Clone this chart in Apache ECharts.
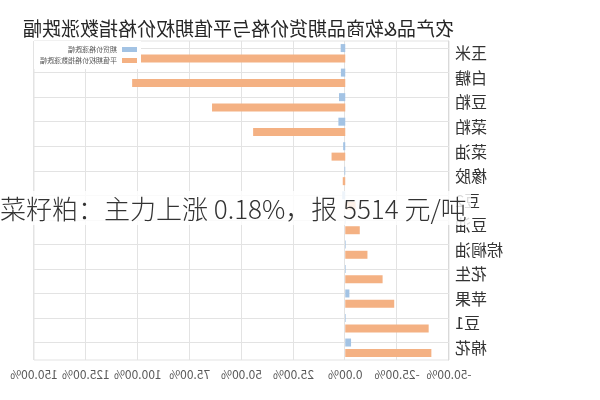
<!DOCTYPE html>
<html><head><meta charset="utf-8">
<script src="https://cdn.jsdelivr.net/npm/echarts@6/dist/echarts.min.js"></script>
<style>
html,body{margin:0;padding:0;background:#fff;}
#wrap{position:relative;width:600px;height:400px;overflow:hidden;}
#chart{position:absolute;left:0;top:0;width:600px;height:400px;transform:scaleX(-1);}
#caption{position:absolute;left:0;top:191px;height:34px;line-height:34px;font-family:"Noto Sans CJK SC";font-size:26px;color:#333;background:rgba(255,255,255,0.82);white-space:nowrap;padding-right:4px;font-weight:300;}
</style></head>
<body><div id="wrap"><div id="chart"></div><div id="caption">菜籽粕：主力上涨 0.18%，报 5514 元/吨</div></div>
<script>
const titleText = '农产品&软商品期货价格与平值期权价格指数涨跌幅';
const categories = ['玉米','白糖','豆粕','菜粕','菜油','橡胶','豆2','豆油','棕榈油','花生','苹果','豆1','棉花'];
const seriesNames = ['期货价格涨跌幅','平值期权价格指数涨跌幅'];
const futuresChange = [2.2, 2.1, 3.0, 3.3, 1.0, 0.4, 1.5, -0.3, -0.3, -0.3, -2.0, -0.3, -2.8];
const optionIndexChange = [100.0, 102.7, 64.2, 44.4, 6.6, 1.2, -5.0, -7.0, -10.7, -18.0, -23.6, -40.2, -41.5];
const xMin = -50, xMax = 150, xStep = 25;

const FONT = '"Noto Sans CJK SC", "Noto Sans", sans-serif';
const chart = echarts.init(document.getElementById('chart'), null, {renderer: 'canvas'});
chart.setOption({
  animation: false,
  textStyle: {fontFamily: FONT},
  title: {
    text: titleText, left: 141, top: 14,
    textStyle: {fontSize: 19, fontWeight: 'normal', color: '#262626', fontFamily: FONT}
  },
  legend: {
    orient: 'vertical', right: 34, top: 41,
    backgroundColor: '#fff', padding: [5, 6, 5, 4],
    itemWidth: 15, itemHeight: 5, itemGap: 4, icon: 'rect',
    textStyle: {fontSize: 7, color: '#595959', fontFamily: FONT},
    data: seriesNames
  },
  grid: {left: 151, right: 34, top: 41, bottom: 40, show: true, borderColor: '#e3e3e3', borderWidth: 1, containLabel: false},
  xAxis: {
    type: 'value', min: xMin, max: xMax, interval: xStep,
    axisLine: {show: false}, axisTick: {show: false},
    axisLabel: {formatter: v => v.toFixed(2) + '%', fontSize: 12, color: '#595959', margin: 8, fontFamily: FONT},
    splitLine: {show: true, lineStyle: {color: '#e3e3e3', width: 1}}
  },
  yAxis: {
    type: 'category', data: categories, inverse: true,
    axisLine: {show: true, onZero: false, lineStyle: {color: '#d9d9d9'}},
    axisTick: {show: false},
    axisLabel: {fontSize: 16, color: '#333', margin: 6, fontFamily: FONT},
    splitLine: {show: false}
  },
  series: [
    {name: seriesNames[0], type: 'bar', data: futuresChange, barWidth: 8, barGap: '30%', itemStyle: {color: '#a3c3e4'}, z: 3,
     markLine: {silent: true, symbol: 'none', label: {show: false}, z: 1,
       lineStyle: {color: '#e3e3e3', type: 'solid', width: 1},
       data: categories.map(c => ({yAxis: c}))}},
    {name: seriesNames[1], type: 'bar', data: optionIndexChange, barWidth: 8, barGap: '30%', itemStyle: {color: '#f4b183'}, z: 3}
  ]
});
</script></body></html>
